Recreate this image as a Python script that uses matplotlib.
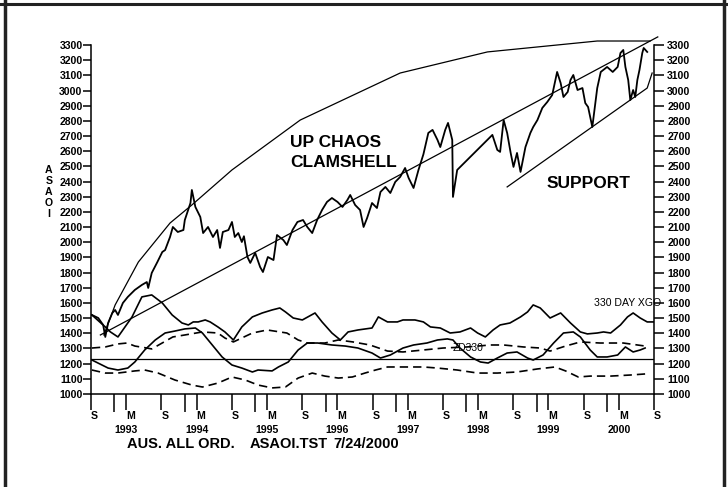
import matplotlib.pyplot as plt
from matplotlib.lines import Line2D

plt.rcParams['font.family'] = ['Liberation Sans', 'DejaVu Sans']

# ---------------- DATA (decimal year, index value) ----------------
price_t = [1992.68, 1992.77, 1992.84, 1992.87, 1992.91, 1992.97, 1993.01, 1993.05, 1993.12, 1993.19,
           1993.29, 1993.39, 1993.46, 1993.48, 1993.53, 1993.61, 1993.68, 1993.72, 1993.79, 1993.83,
           1993.90, 1993.98, 1994.00, 1994.08, 1994.10, 1994.15, 1994.22, 1994.26, 1994.33, 1994.40,
           1994.46, 1994.50, 1994.54, 1994.62, 1994.67, 1994.71, 1994.76, 1994.81, 1994.84, 1994.89,
           1994.93, 1995.00, 1995.07, 1995.11, 1995.18, 1995.26, 1995.31, 1995.40, 1995.45, 1995.53,
           1995.60, 1995.68, 1995.74, 1995.81, 1995.88, 1995.95, 1996.02, 1996.09, 1996.17, 1996.24,
           1996.31, 1996.35, 1996.42, 1996.49, 1996.54, 1996.59, 1996.66, 1996.73, 1996.78, 1996.85,
           1996.92, 1996.99, 1997.06, 1997.13, 1997.18, 1997.25, 1997.32, 1997.39, 1997.46, 1997.52,
           1997.59, 1997.63, 1997.70, 1997.74, 1997.80, 1997.81, 1997.87, 1998.37, 1998.44, 1998.48,
           1998.53, 1998.58, 1998.63, 1998.67, 1998.72, 1998.77, 1998.84, 1998.91, 1998.95, 1999.01,
           1999.08, 1999.15, 1999.22, 1999.29, 1999.34, 1999.38, 1999.44, 1999.48, 1999.52, 1999.58,
           1999.65, 1999.69, 1999.73, 1999.79, 1999.86, 1999.91, 2000.00, 2000.08, 2000.15, 2000.19,
           2000.23, 2000.26, 2000.30, 2000.33, 2000.37, 2000.40, 2000.43, 2000.46, 2000.50, 2000.52,
           2000.57]
price_v = [1521, 1501, 1455, 1376, 1468, 1534, 1554, 1521, 1600, 1640,
           1686, 1719, 1738, 1699, 1798, 1870, 1936, 1949, 2035, 2101,
           2068, 2081, 2147, 2259, 2345, 2233, 2167, 2061, 2101, 2035,
           2081, 1963, 2068, 2081, 2134, 2035, 2061, 2002, 2040, 1903,
           1864, 1930, 1837, 1804, 1903, 1883, 2048, 2015, 1982, 2081,
           2134, 2147, 2101, 2061, 2147, 2213, 2266, 2292, 2266, 2233,
           2279, 2312, 2246, 2213, 2101, 2160, 2259, 2226, 2332, 2365,
           2325, 2398, 2431, 2490, 2424, 2358, 2477, 2580, 2721, 2741,
           2675, 2628, 2741, 2787, 2675, 2299, 2477, 2708, 2609, 2596,
           2806, 2721, 2589, 2497, 2589, 2464, 2628, 2721, 2760, 2806,
           2886, 2925, 2971, 3123, 3050, 2958, 2991, 3070, 3103, 3004,
           3017, 2918, 2892, 2760, 3017, 3123, 3156, 3123, 3156, 3248,
           3268, 3156, 3070, 2938, 3004, 2958, 3070, 3136, 3248, 3281,
           3255]

# clamshell upper curve
clam_t = [1992.85, 1993.01, 1993.34, 1993.79, 1994.10, 1994.67, 1995.64, 1997.06, 1998.30, 1999.86, 2000.61]
clam_v = [1389, 1587, 1870, 2127, 2246, 2477, 2806, 3116, 3255, 3327, 3327]

# long up trend line
trend_t = [1992.80, 2000.72]
trend_v = [1389, 3354]

# support line
support_t = [1998.58, 2000.57, 2000.64]
support_v = [2365, 3017, 3116]

# 330 day XGO (upper solid)
xgo_t = [1992.68, 1992.79, 1992.87, 1992.94, 1993.05, 1993.25, 1993.39, 1993.53, 1993.68, 1993.82,
         1993.96, 1994.05, 1994.12, 1994.19, 1994.29, 1994.36, 1994.47, 1994.57, 1994.69, 1994.81,
         1994.96, 1995.10, 1995.24, 1995.35, 1995.43, 1995.54, 1995.67, 1995.85, 1995.95, 1996.09,
         1996.21, 1996.32, 1996.46, 1996.66, 1996.71, 1996.75, 1996.88, 1997.02, 1997.10, 1997.27,
         1997.39, 1997.49, 1997.63, 1997.77, 1997.91, 1998.06, 1998.16, 1998.27, 1998.38, 1998.48,
         1998.62, 1998.77, 1998.87, 1998.95, 1999.05, 1999.19, 1999.34, 1999.48, 1999.62, 1999.72,
         1999.86, 1999.95, 2000.05, 2000.19, 2000.29, 2000.37, 2000.47, 2000.57, 2000.66]
xgo_v = [1521, 1475, 1442, 1410, 1376, 1508, 1640, 1653, 1600, 1521,
         1468, 1455, 1475, 1475, 1488, 1475, 1442, 1409, 1356, 1442,
         1508, 1534, 1554, 1567, 1541, 1501, 1488, 1534, 1475, 1402,
         1356, 1409, 1422, 1435, 1475, 1508, 1475, 1475, 1488, 1488,
         1475, 1442, 1435, 1402, 1409, 1435, 1402, 1376, 1422, 1455,
         1468, 1508, 1541, 1587, 1567, 1501, 1534, 1468, 1409, 1396,
         1402, 1409, 1402, 1455, 1508, 1534, 1501, 1475, 1475]

# second solid oscillator
osc_t = [1992.68, 1992.91, 1993.05, 1993.19, 1993.29, 1993.43, 1993.58, 1993.72, 1993.86, 1994.00,
         1994.15, 1994.25, 1994.39, 1994.53, 1994.67, 1994.81, 1994.96, 1995.04, 1995.24, 1995.33,
         1995.47, 1995.61, 1995.74, 1995.89, 1996.09, 1996.28, 1996.46, 1996.66, 1996.78, 1996.92,
         1997.10, 1997.25, 1997.44, 1997.59, 1997.73, 1997.81, 1997.91, 1998.06, 1998.20, 1998.31,
         1998.44, 1998.58, 1998.72, 1998.87, 1998.95, 1999.09, 1999.24, 1999.38, 1999.52, 1999.62,
         1999.76, 1999.86, 2000.00, 2000.15, 2000.26, 2000.37, 2000.47, 2000.54]
osc_v = [1224, 1171, 1158, 1171, 1211, 1290, 1356, 1402, 1415, 1429,
         1435, 1402, 1323, 1244, 1191, 1171, 1145, 1158, 1152, 1178,
         1211, 1290, 1336, 1336, 1323, 1316, 1303, 1270, 1237, 1257,
         1303, 1323, 1336, 1356, 1363, 1356, 1303, 1244, 1211, 1204,
         1237, 1270, 1277, 1237, 1224, 1257, 1336, 1402, 1409, 1376,
         1290, 1244, 1244, 1257, 1310, 1277, 1290, 1303]

# ZD330 upper dashed
zd_t = [1992.68, 1992.87, 1993.05, 1993.18, 1993.29, 1993.46, 1993.53, 1993.83, 1994.00, 1994.25,
        1994.47, 1994.57, 1994.69, 1994.96, 1995.17, 1995.45, 1995.61, 1995.74, 1995.99, 1996.18,
        1996.39, 1996.63, 1996.88, 1997.10, 1997.39, 1997.67, 1998.01, 1998.34, 1998.53, 1998.81,
        1999.05, 1999.19, 1999.41, 1999.62, 1999.90, 2000.23, 2000.54]
zd_v = [1303, 1310, 1330, 1336, 1316, 1303, 1297, 1376, 1389, 1409,
        1402, 1369, 1343, 1402, 1422, 1402, 1356, 1336, 1336, 1356,
        1343, 1323, 1283, 1277, 1290, 1303, 1310, 1323, 1323, 1310,
        1303, 1283, 1316, 1343, 1336, 1336, 1316]

# lower dashed
low_t = [1992.68, 1992.87, 1993.05, 1993.29, 1993.43, 1993.62, 1993.86, 1994.10, 1994.25, 1994.47,
         1994.67, 1994.86, 1995.04, 1995.24, 1995.43, 1995.61, 1995.81, 1995.99, 1996.18, 1996.38,
         1996.56, 1996.71, 1996.88, 1997.10, 1997.39, 1997.59, 1997.87, 1998.16, 1998.44, 1998.72,
         1999.01, 1999.26, 1999.41, 1999.59, 1999.76, 2000.05, 2000.33, 2000.54]
low_v = [1158, 1138, 1138, 1152, 1158, 1138, 1092, 1059, 1046, 1072,
         1112, 1092, 1059, 1040, 1046, 1105, 1138, 1118, 1105, 1112,
         1138, 1158, 1178, 1178, 1178, 1171, 1158, 1138, 1138, 1145,
         1165, 1178, 1152, 1112, 1118, 1118, 1125, 1132]

zero_level = 1230
years = [1993, 1994, 1995, 1996, 1997, 1998, 1999, 2000]
y_ticks = list(range(1000, 3400, 100))

# ---------------- FIGURE ----------------
fig = plt.figure(figsize=(7.28, 4.87), dpi=100)
ax = fig.add_axes([0.125, 0.191, 0.7734, 0.7413])
x0, x1 = 1992.667, 2000.667
ax.set_xlim(x0, x1)
ax.set_ylim(1000, 3380)

ax.plot(price_t, price_v, color='black', lw=1.3)
ax.plot(clam_t, clam_v, color='black', lw=0.9)
ax.plot(trend_t, trend_v, color='black', lw=0.9, clip_on=False)
ax.plot(support_t, support_v, color='black', lw=0.9)
ax.plot(xgo_t, xgo_v, color='black', lw=1.2)
ax.plot(osc_t, osc_v, color='black', lw=1.2)
ax.plot(zd_t, zd_v, color='black', lw=1.2, dashes=(5, 3))
ax.plot(low_t, low_v, color='black', lw=1.2, dashes=(5, 3))
ax.axhline(zero_level, color='black', lw=0.9)

# spines
ax.spines['top'].set_visible(False)
for s in ['left', 'right', 'bottom']:
    ax.spines[s].set_linewidth(1.1)
ax.spines['left'].set_bounds(1000, 3300)
ax.spines['right'].set_bounds(1000, 3300)

# y ticks left
ax.set_yticks(y_ticks)
ax.set_yticklabels([str(v) for v in y_ticks], fontsize=7.6, fontweight='bold')
ax.tick_params(axis='y', direction='out', length=6, width=1.1, pad=0)

ax2 = ax.twinx()
ax2.set_ylim(ax.get_ylim())
ax2.set_yticks(y_ticks)
ax2.set_yticklabels([str(v) for v in y_ticks], fontsize=7.6, fontweight='bold')
ax2.tick_params(axis='y', direction='out', length=7.5, width=1.1, pad=2)
for s in ['top', 'left', 'bottom', 'right']:
    ax2.spines[s].set_visible(False)

# x ticks: S (Sep) and M (Mar) labelled, Jan unlabelled
s_pos = [y - 1 + 0.667 for y in years] + [years[-1] + 0.667]
m_pos = [y + 0.167 for y in years]
major = sorted(s_pos + m_pos)
labels = ['S' if any(abs(p - q) < 1e-6 for q in s_pos) else 'M' for p in major]
ax.set_xticks(major)
ax.set_xticklabels(labels, fontsize=7.6, fontweight='bold', ha='left')
ax.set_xticks([float(y) for y in years], minor=True)
ax.tick_params(axis='x', which='major', direction='out', length=11.5, width=1.1, pad=0.5)
ax.tick_params(axis='x', which='minor', direction='out', length=13, width=1.1)
for y in years:
    ax.text(y + 0.167, -0.0997, str(y), transform=ax.get_xaxis_transform(),
            ha='center', va='center', fontsize=7.6, fontweight='bold')

# annotations
ax.text(1995.50, 2630, 'UP CHAOS', fontsize=12.5, fontweight='bold', va='baseline')
ax.text(1995.50, 2495, 'CLAMSHELL', fontsize=12.5, fontweight='bold', va='baseline')
ax.text(1999.146, 2360, 'SUPPORT', fontsize=12.5, fontweight='bold', va='baseline')
ax.text(1999.81, 1580, '330 DAY XGO', fontsize=7.6, va='baseline', clip_on=False)
ax.text(1997.80, 1283, 'ZD330', fontsize=7.4, va='baseline')

# side label and footer
fig.text(49 / 728, 1 - 192 / 487, 'A\nS\nA\nO\nI', ha='center', va='center',
         fontsize=7.6, fontweight='bold', linespacing=1.15)
fig.text(127 / 728, 1 - 444 / 487, 'AUS. ALL ORD.', fontsize=10.5, fontweight='bold', va='center')
fig.text(250 / 728, 1 - 444 / 487, 'ASAOI.TST', fontsize=10.5, fontweight='bold', va='center')
fig.text(333 / 728, 1 - 444 / 487, '7/24/2000', fontsize=10.5, fontweight='bold', va='center')

# outer frame
fig.add_artist(Line2D([0, 1], [1 - 4 / 487, 1 - 4 / 487], color='#222222', lw=2.2))
fig.add_artist(Line2D([5 / 728, 5 / 728], [0, 1], color='#222222', lw=2.5))
fig.add_artist(Line2D([724 / 728, 724 / 728], [0, 1], color='#222222', lw=2.5))

fig.savefig('out.png', dpi=100)
